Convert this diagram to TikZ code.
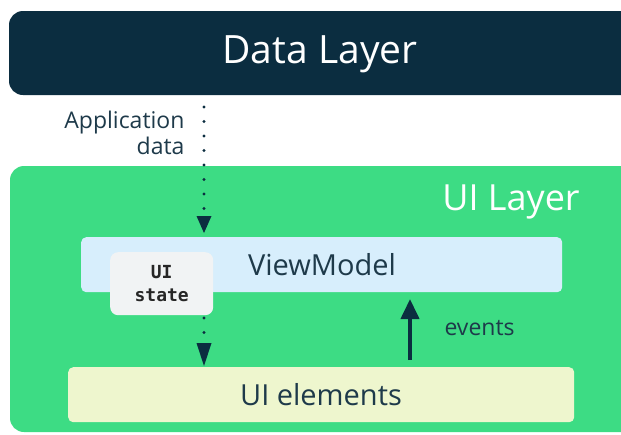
\documentclass[tikz,border=0pt]{standalone}
\usepackage{fontspec}
\setmainfont{Open Sans}
\setmonofont{DejaVu Sans Mono}
\usetikzlibrary{arrows.meta}
\definecolor{navy}{HTML}{0B2D40}
\definecolor{andgreen}{HTML}{3DDC84}
\definecolor{vmblue}{HTML}{D7EEFC}
\definecolor{uiyellow}{HTML}{EEF6CE}
\definecolor{stategray}{HTML}{F1F3F4}
\definecolor{txtdark}{HTML}{1E3A4A}
\tikzset{
  layerbox/.style={rounded corners=14pt, draw=none},
  innerbox/.style={rounded corners=5pt, draw=none},
  dotline/.style={navy, line width=3.4pt, line cap=round, dash pattern=on 0pt off 14.5pt},
  label/.style={font=\fontsize{23}{26}\selectfont, text=txtdark},
  boxtext/.style={text=txtdark, font=\fontsize{29}{33}\selectfont}
}
\begin{document}
\begin{tikzpicture}[x=1pt,y=-1pt]
\useasboundingbox[fill=white] (0,0) rectangle (621,434);
% Data layer
\fill[navy, layerbox] (9,11) rectangle (650,95);
\node[text=white, font=\fontsize{39}{44}\selectfont] (dl) at (320,54) {Data Layer};
% UI layer
\fill[andgreen, layerbox] (10,166) rectangle (650,432);
\node[text=white, font=\fontsize{36}{40}\selectfont] (ul) at (511,202) {UI Layer};
% ViewModel
\node[innerbox, fill=vmblue, minimum width=481pt, minimum height=55pt, anchor=north west] (vm) at (81,237) {};
\node[boxtext] (vmt) at (322,265) {ViewModel};
% UI elements
\node[innerbox, fill=uiyellow, minimum width=506pt, minimum height=55pt, anchor=north west] (ue) at (68,367) {};
\node[boxtext] (uet) at (321,395) {UI elements};
% UI state
\node[innerbox, rounded corners=8pt, fill=stategray, minimum width=103pt, minimum height=63pt, anchor=north west,
      align=center, font=\ttfamily\bfseries\fontsize{18}{23}\selectfont, text=black!85] (st) at (110,252) {UI\\state};
% Application data label
\node[label, align=right, anchor=east] (ad) at (188,133) {Application\\data};
% coordinates
\coordinate (a1) at (204,107);
\coordinate (a2) at (204,233);
\coordinate (b1) at (204,318);
\coordinate (b2) at (204,366);
\draw[dotline] (a1) -- (204,213);
\fill[navy] (196.5,216) -- (211.5,216) -- (a2) -- cycle;
\draw[dotline] (b1) -- (204,343);
\fill[navy] (196.5,343) -- (211.5,343) -- (b2) -- cycle;
% events
\coordinate (e1) at (410,360);
\coordinate (e2) at (410,299);
\draw[navy, line width=4pt, -{Triangle[width=18pt,length=20pt]}] (e1) -- (e2);
\node[label, anchor=west] (ev) at (441,328) {events};
\end{tikzpicture}
\end{document}
